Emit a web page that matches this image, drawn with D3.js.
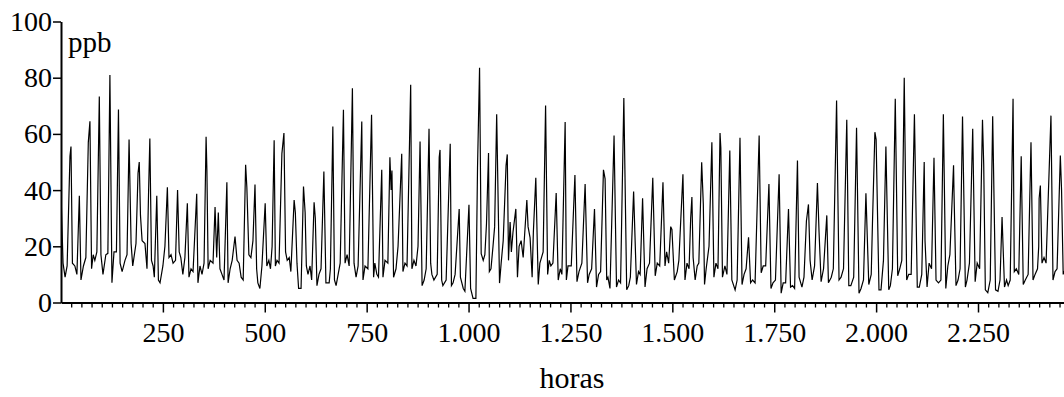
<!DOCTYPE html>
<html>
<head>
<meta charset="utf-8">
<script src="https://cdn.jsdelivr.net/npm/d3@7"></script>
</head>
<body style="margin:0">
<div id="chart"></div>
<script>
// Hourly ppb record (hour of each vertex, value in ppb)
const hours = [
  0, 5, 10, 15, 22, 24.5, 28, 34, 39, 45, 49, 55, 61, 67, 71, 75, 79, 83, 88, 94, 98, 103, 110, 115, 120, 125, 130, 136, 141, 145, 150, 157, 162, 167, 172, 176, 184, 189, 192, 195, 199, 206, 211, 215, 218, 222, 226, 229, 235, 239, 243,
  250, 255, 261, 265, 270, 275, 281, 286, 290, 294, 299, 304, 310, 314, 319, 324, 333, 336, 341, 346, 351, 356, 358, 361, 366, 373, 378, 382, 386, 390, 395, 400, 407, 410, 415, 420, 427, 432, 437, 442, 447, 453, 456, 461, 466, 471, 476, 480, 483, 488, 493, 501, 505, 510,
  514, 518, 523, 526, 530, 535, 542, 547, 551, 555, 560, 564, 572, 575, 579, 583, 589, 595, 599, 602, 606, 611, 615, 621, 624, 628, 633, 638, 645, 650, 658, 661, 667, 671, 675, 680, 685, 693, 697, 702, 707, 715, 719, 724, 729, 738, 741, 746, 753, 762,
  767, 770, 775, 779, 787, 790, 795, 802, 807, 810, 812, 816, 822, 827, 836, 839, 844, 849, 858, 861, 866, 871, 876, 881, 886, 891, 896, 903, 907, 910, 915, 923, 928, 930, 934, 937, 945, 955, 958, 962, 967, 977, 980, 987, 991, 1001, 1005, 1011, 1018,
  1022, 1027, 1031, 1036, 1040, 1044, 1049, 1051, 1055, 1060, 1064, 1069, 1076, 1080, 1085, 1092, 1095, 1098, 1102, 1105, 1109, 1116, 1120, 1124, 1129, 1134, 1143, 1146, 1151, 1156, 1159, 1165, 1171, 1175, 1183, 1189, 1194, 1198, 1202, 1207, 1215, 1220, 1225, 1229, 1237, 1240, 1244, 1252, 1261, 1266, 1271, 1278, 1286,
  1292, 1296, 1302, 1309, 1314, 1319, 1324, 1331, 1335, 1339, 1342, 1347, 1357, 1363, 1368, 1373, 1381, 1388, 1393, 1397, 1405, 1412, 1417, 1421, 1427, 1433, 1438, 1444, 1452, 1458, 1463, 1469, 1477, 1482, 1486, 1491, 1496, 1499, 1505, 1512, 1516, 1526, 1531, 1536, 1541,
  1545, 1548, 1551, 1556, 1561, 1565, 1572, 1576, 1579, 1583, 1590, 1597, 1602, 1607, 1612, 1617, 1619, 1623, 1629, 1634, 1641, 1646, 1654, 1659, 1666, 1671, 1676, 1681, 1687, 1692, 1697, 1703, 1713, 1718, 1723, 1729, 1737, 1742, 1747, 1753, 1762, 1767, 1772, 1778, 1785, 1790,
  1795, 1800, 1807, 1811, 1818, 1823, 1829, 1834, 1838, 1843, 1849, 1856, 1860, 1865, 1871, 1879, 1883, 1890, 1895, 1903, 1909, 1914, 1920, 1928, 1933, 1938, 1945, 1952, 1958, 1963, 1969, 1975, 1982, 1988, 1991, 1997, 2000, 2007, 2012, 2018, 2024, 2031, 2035, 2040, 2047,
  2053, 2058, 2063, 2069, 2075, 2080, 2086, 2094, 2101, 2106, 2112, 2118, 2120, 2125, 2130, 2136, 2142, 2147, 2153, 2159, 2165, 2171, 2176, 2181, 2190, 2191, 2196, 2201, 2206, 2212, 2219, 2223, 2229, 2237, 2243, 2248, 2254, 2261, 2264, 2268, 2274, 2280, 2286, 2293, 2299, 2304, 2309,
  2315, 2320, 2324, 2329, 2336, 2339, 2344, 2350, 2356, 2361, 2366, 2373, 2380, 2385, 2390, 2396, 2399, 2400, 2403, 2407, 2412, 2417, 2429, 2434, 2439, 2444, 2452, 2455, 2459, 2464
];
const ppb = [
  39, 14, 9, 13, 52, 55.5, 14, 13, 10, 38, 8, 13, 16, 57, 64.5, 12, 17, 15, 18, 73.3, 17, 10, 17, 17.5, 81, 7, 18, 18, 68.7, 14, 11, 15, 17, 58, 21, 13, 21, 46, 50, 31, 22, 21, 12, 40, 58.4, 15, 13, 9, 38, 8, 7,
  13, 20, 41, 16, 17, 14, 15, 40, 18, 16, 10, 16, 35.3, 9, 12, 11, 38.7, 7, 13, 10, 14, 59, 47, 12, 15, 14, 34, 16, 32, 12, 10, 8, 42.8, 7, 12, 15, 23.5, 15, 14, 9, 8, 49, 41, 17, 16, 22, 42, 12, 7, 5, 13, 35.3, 13, 15,
  12, 20, 57.7, 13, 15, 14, 53, 60.3, 18, 15, 16, 11, 36.5, 32, 14, 5, 5, 41.3, 32, 13, 10, 13, 8, 35.7, 30, 6, 10, 12, 46.6, 7, 7, 12, 62.6, 8, 6, 10, 14, 68.6, 14, 17, 13, 76.2, 14, 9, 13, 64.4, 8, 13, 12, 66.8,
  9, 14, 10, 9, 47.2, 9, 15, 14, 51.7, 40, 47, 9, 12, 20, 52.9, 11, 14, 13, 77.5, 12, 15, 13, 20, 57.3, 6, 8, 12, 61.8, 14, 10, 8, 10, 51.7, 54.3, 8, 6, 8, 56.5, 6, 7, 10, 33.3, 9, 5, 4, 34.8, 5, 1.5, 1.5,
  48, 83.5, 17.4, 15, 17, 28, 53.2, 11, 12, 20, 27, 67, 6.9, 14, 22, 48.7, 52.7, 15, 28.6, 18, 25, 33.3, 9, 20, 22, 16, 36.5, 27, 23, 9, 25, 44.4, 6.4, 14, 18, 70.1, 10, 15, 13, 14, 39, 8, 12, 10, 64.2, 8, 13, 13, 45.4, 7.4, 11, 14, 42.2,
  7, 10, 12, 33.3, 5.5, 10, 11, 47.2, 44, 8, 9, 5, 59.4, 5.5, 8, 7, 72.8, 4.5, 6, 9, 39.5, 6.4, 11, 10, 37.1, 5.5, 12, 14, 44.4, 9.5, 14, 13, 42.8, 13, 18, 14, 27, 26, 8, 11, 15, 45.6, 8, 14, 12,
  30, 37.5, 16, 8, 13, 14, 49.9, 35, 6.4, 12, 20, 57, 9, 14, 12, 60.3, 55, 9, 13, 10, 54.1, 8, 4.5, 8, 58.6, 6.4, 10, 12, 23.2, 7, 8, 7, 59.4, 10.6, 13, 13, 42.2, 5, 7, 8, 45.6, 3.3, 7, 7, 33.3, 5.5,
  6, 5, 50.5, 9, 5.5, 9, 29, 34.9, 15, 8, 13, 42.5, 25, 7.4, 12, 31, 7, 9, 12, 71.9, 8, 9, 12, 65, 6, 6, 9, 62.2, 3.3, 5, 8, 38.9, 6.4, 10, 28, 60.6, 58, 4.5, 4.5, 15, 55.5, 4.5, 6, 12, 72.5,
  9.5, 12, 15, 80, 8, 10, 10, 67, 5.5, 5.5, 10, 50, 22, 5.5, 14, 12, 51.5, 8, 7, 8, 67, 5, 13, 17, 48.8, 40, 6, 8, 12, 66.2, 5.5, 8, 14, 61.8, 7.4, 14, 12, 65, 49, 4.5, 3.5, 8, 66.3, 4.5, 4, 8, 30.4,
  5.5, 8, 6, 8, 72.5, 11, 12, 10, 52, 6.4, 8, 10, 57, 8, 10, 12, 20, 37, 41.6, 14, 16, 14, 66.5, 8, 11, 12, 52.3, 40, 10, 12
];

const yTicks = [0, 20, 40, 60, 80, 100];
const xTicks = [250, 500, 750, 1000, 1250, 1500, 1750, 2000, 2250];
const xMinorStep = 25;
const xMax = 2461;

const W = 1064, H = 397;
const plotLeft = 61, plotRight = 1064, plotTop = 21.5, plotBottom = 302.5;
const FONT = 'Times New Roman';

// Spanish-style grouping: 1.000, 1.250 ...
const esLocale = d3.formatLocale({ decimal: ',', thousands: '.', grouping: [3], currency: ['', ''] });
const fmt = esLocale.format(',d');

const svg = d3.select('#chart')
  .append('svg')
  .attr('width', W)
  .attr('height', H)
  .attr('font-family', FONT);

const x = d3.scaleLinear().domain([0, xMax]).range([plotLeft, plotRight]);
const y = d3.scaleLinear().domain([0, 100]).range([plotBottom, plotTop]);

svg.append('clipPath')
  .attr('id', 'plot-clip')
  .append('rect')
  .attr('x', plotLeft)
  .attr('y', 0)
  .attr('width', plotRight - plotLeft)
  .attr('height', plotBottom + 2);

// Series line
const series = hours.map((h, i) => [h, ppb[i]]);
svg.append('path')
  .datum(series)
  .attr('clip-path', 'url(#plot-clip)')
  .attr('fill', 'none')
  .attr('stroke', '#000')
  .attr('stroke-width', 1.2)
  .attr('d', d3.line().x(d => x(d[0])).y(d => y(d[1])));

// Minor x ticks every 25 h
const minor = d3.range(xMinorStep, xMax, xMinorStep).filter(v => v % 250 !== 0);
svg.append('g')
  .attr('transform', `translate(0,${plotBottom})`)
  .call(d3.axisBottom(x).tickValues(minor).tickSize(5).tickSizeOuter(0).tickFormat(''))
  .call(g => g.select('.domain').remove())
  .call(g => g.selectAll('.tick line').attr('stroke', '#000').attr('stroke-width', 1.3));

// Major x axis
const gx = svg.append('g')
  .attr('transform', `translate(0,${plotBottom})`)
  .call(d3.axisBottom(x).tickValues(xTicks).tickSize(10).tickSizeOuter(0).tickPadding(10).tickFormat(fmt))
  .attr('font-family', FONT)
  .attr('font-size', 28);
gx.select('.domain').attr('stroke', '#000').attr('stroke-width', 2);
gx.selectAll('.tick line').attr('stroke', '#000').attr('stroke-width', 1.5);
gx.selectAll('.tick text')
  .attr('font-family', FONT)
  .style('font-family', FONT)
  .attr('font-size', 28)
  .attr('fill', '#000');

// Y axis
const gy = svg.append('g')
  .attr('transform', `translate(${plotLeft},0)`)
  .call(d3.axisLeft(y).tickValues(yTicks).tickSize(8).tickSizeOuter(0).tickPadding(1))
  .attr('font-family', FONT)
  .attr('font-size', 28);
gy.select('.domain').attr('stroke', '#000').attr('stroke-width', 2);
gy.selectAll('.tick line').attr('stroke', '#000').attr('stroke-width', 1.5);
gy.selectAll('.tick text')
  .attr('font-family', FONT)
  .style('font-family', FONT)
  .attr('font-size', 28)
  .attr('fill', '#000');

// Axis titles
svg.append('text')
  .attr('x', 68)
  .attr('y', 52)
  .attr('font-family', FONT)
  .style('font-family', FONT)
  .attr('font-size', 29)
  .text('ppb');

svg.append('text')
  .attr('x', 572)
  .attr('y', 388)
  .attr('text-anchor', 'middle')
  .attr('font-family', FONT)
  .style('font-family', FONT)
  .attr('font-size', 30)
  .text('horas');
</script>
</body>
</html>
